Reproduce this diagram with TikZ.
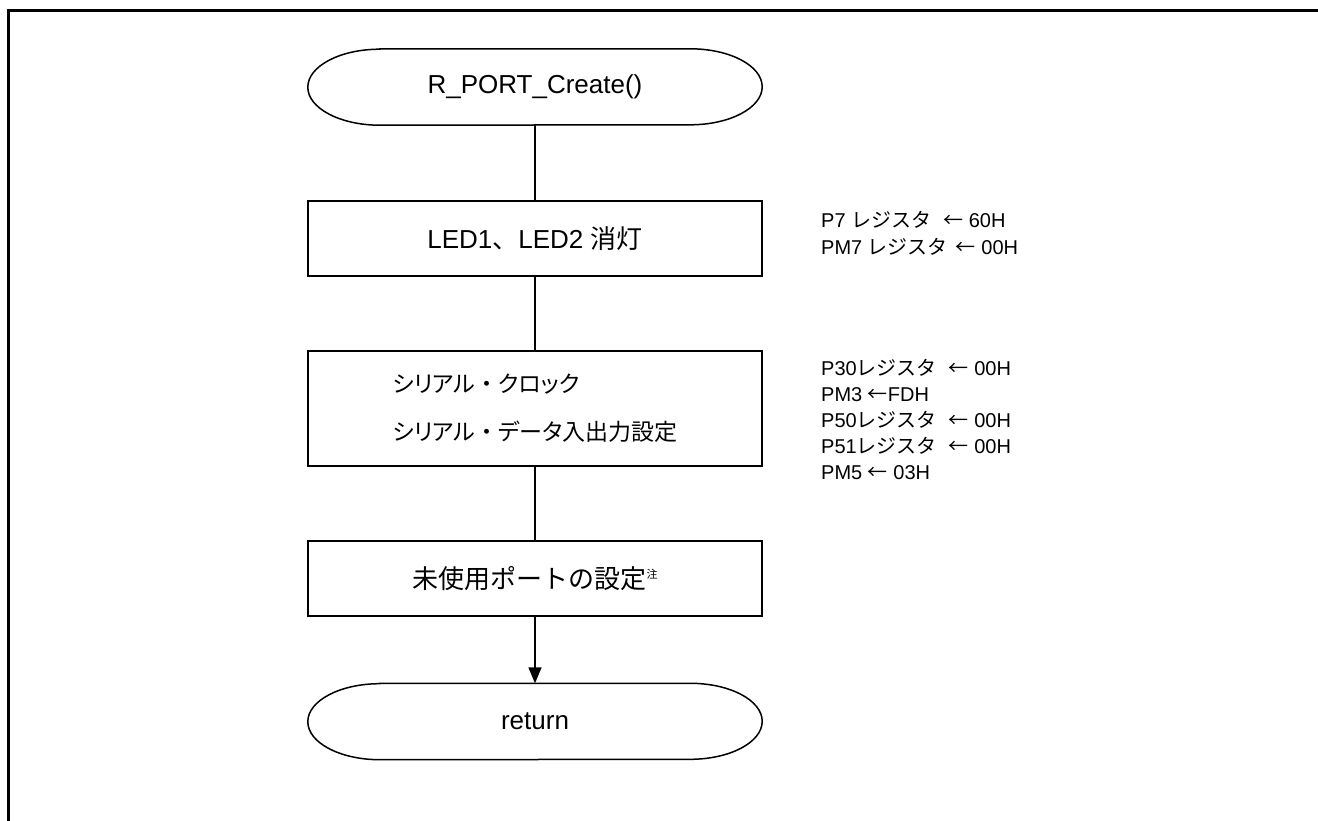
\documentclass[tikz,border=0pt]{standalone}
\usepackage{fontspec}
\setmainfont{Liberation Sans}
\newfontfamily\jp{Noto Sans CJK JP}
\newfontfamily\jpp[RawFeature=+palt]{Noto Sans CJK JP}
\usetikzlibrary{arrows.meta}
\newcommand{\termoutline}[1]{%
  \draw[line width=1.5pt] ([xshift=72pt]#1.north west) -- ([xshift=-72pt]#1.north east)
    arc[start angle=90,end angle=-90,x radius=72pt,y radius=38pt]
    -- ([xshift=72pt]#1.south west)
    arc[start angle=270,end angle=90,x radius=72pt,y radius=38pt] -- cycle;}
\newcommand{\fwdot}{{\jp ・}}
\begin{document}
\begin{tikzpicture}[x=1pt,y=-1pt,
  box/.style={draw, line width=1.8pt, minimum width=454pt, minimum height=75pt, inner sep=0pt, font=\fontsize{26}{31}\selectfont},
  term/.style={minimum width=454pt, minimum height=76pt, inner sep=0pt, font=\fontsize{26}{31}\selectfont},
  note/.style={anchor=base west, inner sep=0pt, font=\fontsize{20}{24}\selectfont},
  conn/.style={line width=1.5pt},
]
\useasboundingbox (0,0) rectangle (1318,821);
\draw[line width=2.7pt] (8.3,821) -- (8.3,10.7) -- (1318,10.7);

\node[term] (start) at (535,87) {R\_PORT\_Create()};
\termoutline{start}
\node[box] (b1) at (535,238.5) {LED1{\jp 、}LED2 {\jp 消灯}};
\node[box, minimum height=115pt, align=left, font=\fontsize{23}{48}\selectfont\jpp] (b2) at (535,408.5) {シリアル\fwdot クロック\\シリアル\fwdot データ入出力設定};
\node[box] (b3) at (535,578.5) {{\jp 未使用ポートの設定}\raisebox{10pt}{\fontsize{11}{11}\selectfont\jp 注}};
\node[term] (ret) at (535,721.5) {return};
\termoutline{ret}

\draw[conn] (start) -- (b1);
\draw[conn] (b1) -- (b2);
\draw[conn] (b2) -- (b3);
\draw[conn,-{Triangle[width=13pt,length=16pt]}] (b3) -- (ret);

\node[note] (n1) at (821,228) {P7 {\jp レジスタ}\hspace{12pt}{\jp ←} 60H};
\node[note] (n2) at (821,255) {PM7 {\jp レジスタ}\hspace{8pt}{\jp ←} 00H};
\node[note] (n3) at (821,375) {P30{\jp レジスタ}\hspace{12pt}{\jp ←} 00H};
\node[note] (n4) at (821,401) {PM3 {\jp ←}FDH};
\node[note] (n5) at (821,427) {P50{\jp レジスタ}\hspace{12pt}{\jp ←} 00H};
\node[note] (n6) at (821,453) {P51{\jp レジスタ}\hspace{12pt}{\jp ←} 00H};
\node[note] (n7) at (821,479) {PM5 {\jp ←} 03H};
\end{tikzpicture}
\end{document}
